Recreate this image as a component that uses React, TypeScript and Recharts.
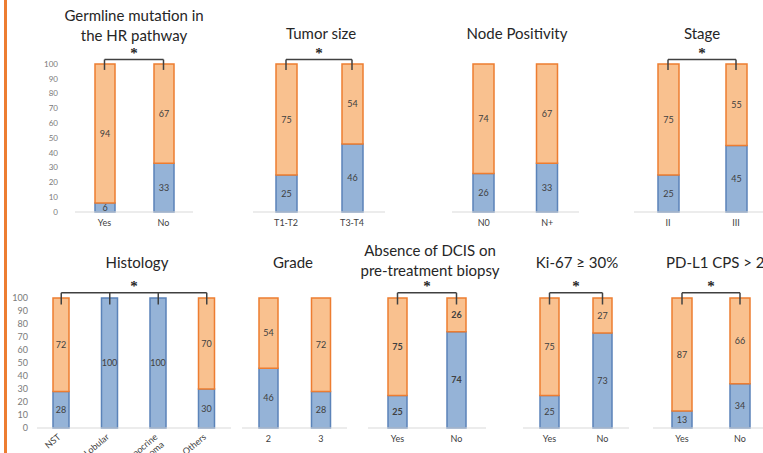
import React from "react";
import { Bar, BarChart, Label, LabelList, ReferenceLine, XAxis, YAxis } from "recharts";

// blue = pcr (bottom), orange = rd (top), in %
const germline = [
  { cat: "Yes", pcr: 6, rd: 94 },
  { cat: "No", pcr: 33, rd: 67 },
];
const tumorSize = [
  { cat: "T1-T2", pcr: 25, rd: 75 },
  { cat: "T3-T4", pcr: 46, rd: 54 },
];
const nodes = [
  { cat: "N0", pcr: 26, rd: 74 },
  { cat: "N+", pcr: 33, rd: 67 },
];
const stage = [
  { cat: "II", pcr: 25, rd: 75 },
  { cat: "III", pcr: 45, rd: 55 },
];
const histology = [
  { cat: "NST", pcr: 28, rd: 72 },
  { cat: "Lobular", pcr: 100, rd: 0 },
  { cat: "Apocrine\ncarcinoma", pcr: 100, rd: 0 },
  { cat: "Others", pcr: 30, rd: 70 },
];
const grade = [
  { cat: "2", pcr: 46, rd: 54 },
  { cat: "3", pcr: 28, rd: 72 },
];
const dcis = [
  { cat: "Yes", pcr: 25, rd: 75 },
  { cat: "No", pcr: 74, rd: 26 },
];
const ki67 = [
  { cat: "Yes", pcr: 25, rd: 75 },
  { cat: "No", pcr: 73, rd: 27 },
];
const pdl1 = [
  { cat: "Yes", pcr: 13, rd: 87 },
  { cat: "No", pcr: 34, rd: 66 },
];

const yTicks = [0, 10, 20, 30, 40, 50, 60, 70, 80, 90, 100];

const ROWS = {
  top: { plotTop: 64, plotBottom: 212, bracket: 103, drop: 96 },
  bottom: { plotTop: 298, plotBottom: 428, bracket: 104, drop: 95 },
};

const MARGIN_TOP = 30;
const AXIS_H = 40;
const FONT = "Lato, 'Open Sans', sans-serif";

const hideZero = (v: any) => (v ? v : "");

function HistTick(props: any) {
  const { x, y, payload } = props;
  const lines = String(payload.value).split("\n");
  return (
    <g transform={`translate(${x},${y + 2})`}>
      <text transform="rotate(-40)" textAnchor="end" fontSize={9} fill="#404040" fontFamily={FONT}>
        {lines.map((l, i) => (
          <tspan key={i} x={0} dy={i ? 10 : 0}>
            {l}
          </tspan>
        ))}
      </text>
    </g>
  );
}

type PanelProps = {
  data: { cat: string; pcr: number; rd: number }[];
  left: number;
  right: number;
  row: "top" | "bottom";
  barSize: number;
  bracket?: string[];
  yAxisWidth?: number;
  yTickMargin?: number;
  yFont?: number;
  boldLabels?: boolean;
  tick?: any;
};

function Panel({ data, left, right, row, barSize, bracket, yAxisWidth = 0, yTickMargin = 0, yFont = 8, boldLabels, tick }: PanelProps) {
  const r = ROWS[row];
  const plotH = r.plotBottom - r.plotTop;
  const width = right - left + yAxisWidth;
  const height = MARGIN_TOP + plotH + AXIS_H;
  const labelStyle = { fontSize: 9, fill: "#404040", fontFamily: FONT, fontWeight: boldLabels ? 700 : 400 };
  return (
    <div style={{ position: "absolute", left: left - yAxisWidth, top: r.plotTop - MARGIN_TOP }}>
      <BarChart
        width={width}
        height={height}
        data={data}
        margin={{ top: MARGIN_TOP, right: 0, bottom: 0, left: 0 }}
        barSize={barSize}
        style={{ overflow: "visible" }}
      >
        <XAxis
          dataKey="cat"
          axisLine={{ stroke: "#d9d9d9" }}
          tickLine={false}
          tickSize={0}
          tickMargin={8}
          height={AXIS_H}
          interval={0}
          tick={tick ?? { fontSize: 9, fill: "#404040", fontFamily: FONT }}
        />
        {yAxisWidth ? (
          <YAxis
            width={yAxisWidth}
            domain={[0, 100]}
            ticks={yTicks}
            interval={0}
            axisLine={false}
            tickLine={false}
            tickSize={0}
            tickMargin={yTickMargin}
            tick={{ fontSize: yFont, fill: "#7a7a7a", fontFamily: FONT }}
          />
        ) : (
          <YAxis hide domain={[0, 100]} />
        )}
        <Bar dataKey="pcr" stackId="s" fill="#95b3d7" stroke="#5b83b9" strokeWidth={1.5} isAnimationActive={false}>
          <LabelList dataKey="pcr" position="center" formatter={hideZero} style={labelStyle} />
        </Bar>
        <Bar dataKey="rd" stackId="s" fill="#f9c18f" stroke="#ed7d31" strokeWidth={1.5} isAnimationActive={false}>
          <LabelList dataKey="rd" position="center" formatter={hideZero} style={labelStyle} />
        </Bar>
        {bracket && (
          <ReferenceLine
            segment={[
              { x: bracket[0], y: r.bracket },
              { x: bracket[bracket.length - 1], y: r.bracket },
            ]}
            stroke="#404040"
            strokeWidth={1.5}
            ifOverflow="visible"
          >
            <Label value="*" position="top" offset={2} fontSize={15} fontWeight={700} fill="#262626" />
          </ReferenceLine>
        )}
        {bracket &&
          bracket.map((c) => (
            <ReferenceLine
              key={c}
              segment={[
                { x: c, y: r.bracket },
                { x: c, y: r.drop },
              ]}
              stroke="#404040"
              strokeWidth={1.5}
              ifOverflow="visible"
            />
          ))}
      </BarChart>
    </div>
  );
}

function Title({ lines, cx, top, align }: { lines: string[]; cx: number; top: number; align?: "left" }) {
  const style: React.CSSProperties = {
    position: "absolute",
    top,
    left: align === "left" ? cx : cx - 120,
    width: align === "left" ? undefined : 240,
    whiteSpace: "nowrap",
    textAlign: align === "left" ? "left" : "center",
    fontFamily: FONT,
    fontSize: 15,
    lineHeight: "20px",
    color: "#262626",
  };
  return (
    <div style={style}>
      {lines.map((l) => (
        <div key={l}>{l}</div>
      ))}
    </div>
  );
}

export default function App() {
  return (
    <div
      style={{
        position: "fixed",
        left: 0,
        top: 0,
        width: 763,
        height: 453,
        overflow: "hidden",
        background: "#fff",
      }}
    >
      <div style={{ position: "absolute", left: 4, top: 0, width: 3, height: 453, background: "#ed7d31" }} />

      <Panel data={germline} left={75} right={193} row="top" barSize={20} bracket={["Yes", "No"]} yAxisWidth={40} yTickMargin={17} />
      <Panel data={tumorSize} left={253} right={385} row="top" barSize={21} bracket={["T1-T2", "T3-T4"]} />
      <Panel data={nodes} left={452} right={579} row="top" barSize={21} />
      <Panel data={stage} left={634} right={770} row="top" barSize={21} bracket={["II", "III"]} />

      <Panel
        data={histology}
        left={37}
        right={231}
        row="bottom"
        barSize={16}
        bracket={histology.map((d) => d.cat)}
        yAxisWidth={28}
        yTickMargin={9}
        yFont={9}
        tick={<HistTick />}
      />
      <Panel data={grade} left={242} right={347} row="bottom" barSize={19} />
      <Panel data={dcis} left={368} right={486} row="bottom" barSize={19} bracket={["Yes", "No"]} boldLabels />
      <Panel data={ki67} left={523} right={629} row="bottom" barSize={19} bracket={["Yes", "No"]} />
      <Panel data={pdl1} left={653} right={769} row="bottom" barSize={20} bracket={["Yes", "No"]} />

      <Title lines={["Germline mutation in", "the HR pathway"]} cx={134} top={5} />
      <Title lines={["Tumor size"]} cx={321} top={23} />
      <Title lines={["Node Positivity"]} cx={517} top={23} />
      <Title lines={["Stage"]} cx={702} top={23} />
      <Title lines={["Histology"]} cx={137} top={252} />
      <Title lines={["Grade"]} cx={293} top={252} />
      <Title lines={["Absence of DCIS on", "pre-treatment biopsy"]} cx={430} top={240} />
      <Title lines={["Ki-67 \u2265 30%"]} cx={577} top={252} />
      <Title lines={["PD-L1 CPS > 20"]} cx={666} top={252} align="left" />
    </div>
  );
}
